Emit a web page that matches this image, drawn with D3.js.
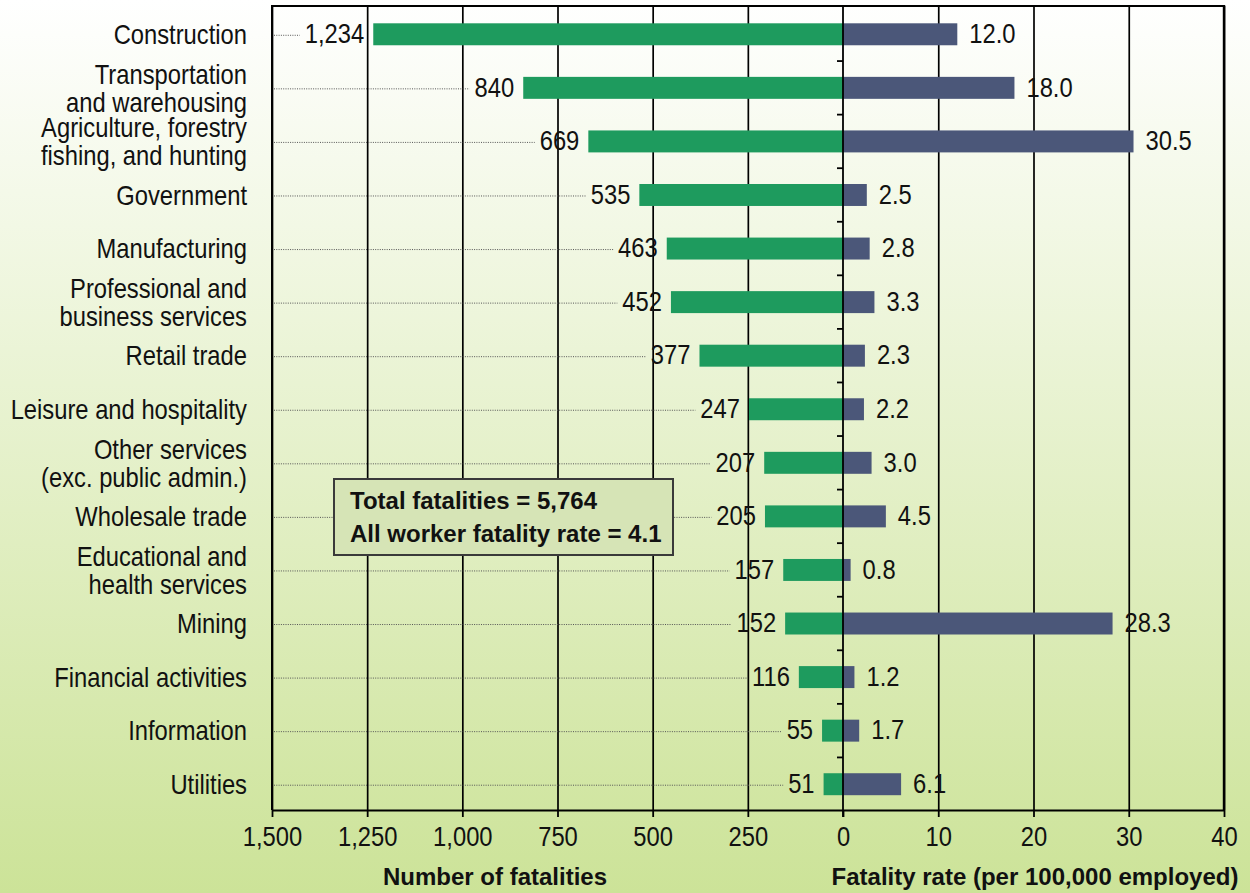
<!DOCTYPE html>
<html>
<head>
<meta charset="utf-8">
<script src="https://cdn.jsdelivr.net/npm/d3@7"></script>
<style>
  html, body { margin: 0; padding: 0; background: #ffffff; }
  svg { display: block; }
</style>
</head>
<body>
<svg id="chart" width="1250" height="893"></svg>
<script>
// ---------------- data ----------------
const categories = [
  ["Construction"],
  ["Transportation", "and warehousing"],
  ["Agriculture, forestry", "fishing, and hunting"],
  ["Government"],
  ["Manufacturing"],
  ["Professional and", "business services"],
  ["Retail trade"],
  ["Leisure and hospitality"],
  ["Other services", "(exc. public admin.)"],
  ["Wholesale trade"],
  ["Educational and", "health services"],
  ["Mining"],
  ["Financial activities"],
  ["Information"],
  ["Utilities"]
];
const fatalities = [1234, 840, 669, 535, 463, 452, 377, 247, 207, 205, 157, 152, 116, 55, 51];
const fatalityRates = [12.0, 18.0, 30.5, 2.5, 2.8, 3.3, 2.3, 2.2, 3.0, 4.5, 0.8, 28.3, 1.2, 1.7, 6.1];
const leftTicks = [1500, 1250, 1000, 750, 500, 250, 0];
const rightTicks = [10, 20, 30, 40];
const leftAxisTitle = "Number of fatalities";
const rightAxisTitle = "Fatality rate (per 100,000 employed)";
const totalFatalities = 5764;
const allWorkerRate = 4.1;

// ---------------- layout / style ----------------
const W = 1250, H = 893;
const plotTop = 6, plotBottom = 810, plotLeft = 272, zeroX = 843, plotRight = 1224;
const GREEN = "#1e9b5e", NAVY = "#4b5779";
const FONT = "'Liberation Sans',Arial,sans-serif";
const FS = 27;      // regular text size
const SX = 0.88;    // horizontal condensing to mimic a narrow Helvetica

const svg = d3.select("#chart");

// background gradient
const defs = svg.append("defs");
const grad = defs.append("linearGradient").attr("id", "bg").attr("x1", 0).attr("y1", 0).attr("x2", 0).attr("y2", 1);
grad.append("stop").attr("offset", "0%").attr("stop-color", "#ffffff");
grad.append("stop").attr("offset", "100%").attr("stop-color", "#cce398");
svg.append("rect").attr("width", W).attr("height", H).attr("fill", "url(#bg)");

// scales
const xL = d3.scaleLinear().domain([0, 1500]).range([zeroX, plotLeft]);
const xR = d3.scaleLinear().domain([0, 40]).range([zeroX, plotRight]);
const y = d3.scaleBand().domain(d3.range(categories.length))
  .range([plotTop + 1.5, plotBottom + 1]).paddingInner(0.59).paddingOuter(0.295);
const cy = i => y(i) + y.bandwidth() / 2;

// condensed text helper
function ctext(parent, x, yy, anchor, txt) {
  const g = parent.append("g").attr("transform", `translate(${x},${yy}) scale(${SX},1)`);
  return g.append("text").attr("x", 0).attr("y", 0).attr("dy", "0.36em")
    .attr("text-anchor", anchor).attr("font-family", FONT).attr("font-size", FS)
    .attr("fill", "#111").text(txt);
}

// gridlines (from axes)
const gridG = svg.append("g");
gridG.append("g").attr("transform", `translate(0,${plotBottom})`)
  .call(d3.axisBottom(xL).tickValues(leftTicks.filter(d => d !== 0)).tickSizeInner(-(plotBottom - plotTop)).tickSizeOuter(0).tickFormat(""))
  .call(g => g.select(".domain").remove())
  .call(g => g.selectAll("line").attr("stroke", "#000").attr("stroke-width", 1.7));
gridG.append("g").attr("transform", `translate(0,${plotBottom})`)
  .call(d3.axisBottom(xR).tickValues(rightTicks).tickSizeInner(-(plotBottom - plotTop)).tickSizeOuter(0).tickFormat(""))
  .call(g => g.select(".domain").remove())
  .call(g => g.selectAll("line").attr("stroke", "#000").attr("stroke-width", 1.7));

// top border
svg.append("line").attr("x1", plotLeft).attr("x2", plotRight).attr("y1", plotTop).attr("y2", plotTop)
  .attr("stroke", "#000").attr("stroke-width", 2);

// bars
svg.append("g").selectAll("rect").data(fatalities).join("rect")
  .attr("x", d => xL(d)).attr("width", d => xL(0) - xL(d))
  .attr("y", (d, i) => y(i)).attr("height", y.bandwidth()).attr("fill", GREEN);
svg.append("g").selectAll("rect").data(fatalityRates).join("rect")
  .attr("x", xR(0)).attr("width", d => xR(d) - xR(0))
  .attr("y", (d, i) => y(i)).attr("height", y.bandwidth()).attr("fill", NAVY);

// left value labels + dotted leaders
const fmt = d3.format(",");
const leaderG = svg.append("g");
const lblG = svg.append("g");
fatalities.forEach((d, i) => {
  const lx = xL(d) - 9;
  const t = ctext(lblG, lx, cy(i) - 1, "end", fmt(d));
  const w = t.node().getComputedTextLength() * SX;
  leaderG.append("line").attr("x1", plotLeft + 2).attr("x2", lx - w - 5)
    .attr("y1", cy(i) + 1).attr("y2", cy(i) + 1)
    .attr("stroke", "#555").attr("stroke-width", 1).attr("stroke-dasharray", "1,1.3");
});

// right value labels
const lblR = svg.append("g");
fatalityRates.forEach((d, i) => {
  ctext(lblR, xR(d) + 12, cy(i) - 1, "start", d3.format(".1f")(d));
});

// category labels
const catG = svg.append("g");
categories.forEach((lines, i) => {
  const lh = 28;
  const g = catG.append("g").attr("transform", `translate(247,0) scale(${SX},1)`);
  const t = g.append("text").attr("text-anchor", "end")
    .attr("font-family", FONT).attr("font-size", FS).attr("fill", "#111");
  lines.forEach((ln, j) => {
    t.append("tspan").attr("x", 0)
      .attr("y", cy(i) + (j - (lines.length - 1) / 2) * lh)
      .attr("dy", "0.36em").text(ln);
  });
});

// zero line with category ticks
svg.append("line").attr("x1", zeroX).attr("x2", zeroX).attr("y1", plotTop).attr("y2", plotBottom + 7)
  .attr("stroke", "#000").attr("stroke-width", 1.8);
svg.append("g").selectAll("line").data(d3.range(1, categories.length)).join("line")
  .attr("x1", zeroX - 6).attr("x2", zeroX)
  .attr("y1", i => y(i) - y.step() * y.paddingInner() / 2).attr("y2", i => y(i) - y.step() * y.paddingInner() / 2)
  .attr("stroke", "#000").attr("stroke-width", 1.8);

// left & right borders
svg.append("line").attr("x1", plotLeft).attr("x2", plotLeft).attr("y1", plotTop - 1).attr("y2", plotBottom)
  .attr("stroke", "#000").attr("stroke-width", 2);
svg.append("line").attr("x1", plotRight).attr("x2", plotRight).attr("y1", plotTop - 1).attr("y2", plotBottom)
  .attr("stroke", "#000").attr("stroke-width", 2.4);

// bottom axes
const axL = svg.append("g").attr("transform", `translate(0,${plotBottom})`)
  .call(d3.axisBottom(xL).tickValues(leftTicks).tickSizeInner(7).tickSizeOuter(0).tickPadding(10).tickFormat(fmt));
const axR = svg.append("g").attr("transform", `translate(0,${plotBottom})`)
  .call(d3.axisBottom(xR).tickValues(rightTicks).tickSizeInner(7).tickSizeOuter(0).tickPadding(10).tickFormat(d3.format("d")));
[axL, axR].forEach(ax => {
  ax.select(".domain").attr("stroke", "#000").attr("stroke-width", 2);
  ax.selectAll(".tick line").attr("stroke", "#000").attr("stroke-width", 1.8);
  ax.selectAll(".tick text").attr("font-family", FONT).attr("font-size", FS).attr("fill", "#111")
    .attr("transform", `scale(${SX},1)`);
});

// axis titles
svg.append("text").attr("x", 495).attr("y", 885).attr("text-anchor", "middle")
  .attr("font-family", FONT).attr("font-weight", "bold").attr("font-size", 24).attr("fill", "#111")
  .text(leftAxisTitle);
svg.append("text").attr("x", 1035).attr("y", 885).attr("text-anchor", "middle")
  .attr("font-family", FONT).attr("font-weight", "bold").attr("font-size", 24).attr("fill", "#111")
  .text(rightAxisTitle);

// summary box
const box = svg.append("g");
box.append("rect").attr("x", 334).attr("y", 479).attr("width", 339).attr("height", 76)
  .attr("fill", "#d6e4b6").attr("stroke", "#3a3a3a").attr("stroke-width", 2);
box.append("text").attr("x", 350).attr("y", 509)
  .attr("font-family", FONT).attr("font-weight", "bold").attr("font-size", 24).attr("fill", "#111")
  .text("Total fatalities = " + fmt(totalFatalities));
box.append("text").attr("x", 350).attr("y", 542)
  .attr("font-family", FONT).attr("font-weight", "bold").attr("font-size", 24).attr("fill", "#111")
  .text("All worker fatality rate = " + allWorkerRate.toFixed(1));
</script>
</body>
</html>
